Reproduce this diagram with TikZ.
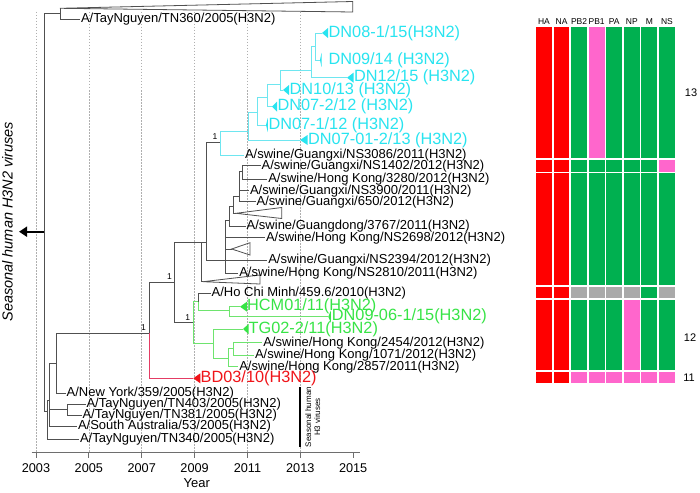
\documentclass[tikz,border=0pt]{standalone}
\usepackage{fontspec}
\setmainfont{Liberation Sans}
\usetikzlibrary{arrows.meta}
\definecolor{treegray}{RGB}{80,80,80}
\definecolor{gridgray}{RGB}{175,175,175}
\definecolor{axisgray}{RGB}{110,110,110}
\definecolor{cytext}{RGB}{40,228,240}
\definecolor{cyline}{RGB}{110,230,240}
\definecolor{grtext}{RGB}{55,228,70}
\definecolor{grline}{RGB}{110,228,110}
\definecolor{rdtext}{RGB}{240,20,25}
\definecolor{rdline}{RGB}{228,60,100}
\definecolor{colR}{RGB}{255,0,0}
\definecolor{colG}{RGB}{0,176,80}
\definecolor{colP}{RGB}{255,102,204}
\definecolor{colY}{RGB}{170,170,170}
\newcommand{\fblk}{\fontsize{13}{13}\selectfont}
\newcommand{\fcol}{\fontsize{16.3}{16}\selectfont}
\newcommand{\fone}{\fontsize{8.5}{8.5}\selectfont}
\newcommand{\mytri}[4]{\fill[#1] (#2) -- ++(#3,-#4) -- ++(0,{2*#4}) -- cycle;}
\begin{document}
\begin{tikzpicture}[x=1pt,y=-1pt,
  tr/.style={draw=treegray,line width=0.8pt},
  cyl/.style={draw=cyline,line width=0.8pt},
  grl/.style={draw=grline,line width=0.8pt},
  rdl/.style={draw=rdline,line width=0.8pt},
  gridl/.style={draw=gridgray,line width=0.5pt,dash pattern=on 1.5pt off 1.5pt},
  blbl/.style={anchor=west,inner xsep=0.8pt,inner ysep=0pt,font=\fblk,text=black},
  clbl/.style={anchor=west,inner xsep=0pt,inner ysep=0pt,font=\fcol,text=cytext},
  glbl/.style={anchor=west,inner xsep=0pt,inner ysep=0pt,font=\fcol,text=grtext},
  rlbl/.style={anchor=west,inner xsep=0pt,inner ysep=0pt,font=\fcol,text=rdtext},
  onel/.style={inner sep=0pt,font=\fone},
  hdr/.style={inner sep=0pt,font=\fontsize{8.5}{8.5}\selectfont},
  numl/.style={inner sep=0pt,font=\fontsize{11}{11}\selectfont},
  yearl/.style={inner sep=0pt,font=\fontsize{12.7}{12.7}\selectfont}]
\useasboundingbox[fill=white] (0,0) rectangle (700,492);

% grid lines and axis
\foreach \yr in {2003,2005,...,2013} {
  \draw[gridl] ({36+(\yr-2003)*26.43},12) -- ({36+(\yr-2003)*26.43},452.7);
}
\draw[draw=axisgray,line width=1.1pt] (31.7,452.7) -- (360,452.7);
\foreach \yr in {2003,2005,...,2015} {
  \draw[draw=axisgray,line width=1pt] ({36+(\yr-2003)*26.43},452.7) -- ({36+(\yr-2003)*26.43},457.5);
  \node[yearl] (y\yr) at ({36+(\yr-2003)*26.43},468) {\yr};
}
\node[inner sep=0pt,font=\fontsize{13}{13}\selectfont] (yearlab) at (196.7,482.7) {Year};

% root and top clade
\coordinate (root) at (44.3,231.7);
\coordinate (n360) at (60,13.3);
\coordinate (n1) at (47,411);
\draw[tr] (root) |- (n360);
\draw[tr] (root) |- (n1);
\coordinate (c0) at (60,8.3);
\draw[tr] (n360) |- (c0);
\draw[tr] (c0) -- (352.7,1.5) -- (352.7,12) -- cycle;
\node[blbl] (tn360) at (80,19) {A/TayNguyen/TN360/2005(H3N2)};
\draw[tr] (n360) |- (tn360.west);

% arrow and left text
\coordinate (arr) at (19,231.7);
\draw[line width=1.8pt,-{Triangle[length=8pt,width=10pt]}] (root) -- (arr);
\node[rotate=90,inner sep=0pt,font=\fontsize{14.5}{14.5}\selectfont\itshape] (shv) at (7.5,221.7) {Seasonal human H3N2 viruses};

% lower cluster
\coordinate (n2) at (49.5,400);
\draw[tr] (n1) |- (n2);
\node[blbl] (tn340) at (79,439) {A/TayNguyen/TN340/2005(H3N2)};
\draw[tr] (n1) |- (tn340.west);
\coordinate (n3) at (56,363.3);
\coordinate (ntn) at (67.3,409);
\node[blbl] (sa) at (77,426.5) {A/South Australia/53/2005(H3N2)};
\draw[tr] (n2) |- (n3);
\draw[tr] (n2) |- (ntn);
\draw[tr] (n2) |- (sa.west);
\node[blbl] (tn403) at (85.5,404) {A/TayNguyen/TN403/2005(H3N2)};
\node[blbl] (tn381) at (81.5,415) {A/TayNguyen/TN381/2005(H3N2)};
\draw[tr] (ntn) |- (tn403.west);
\draw[tr] (ntn) |- (tn381.west);
\node[blbl] (ny) at (65.7,393) {A/New York/359/2005(H3N2)};
\coordinate (P) at (149,333.3);
\draw[tr] (n3) |- (P);
\draw[tr] (n3) |- (ny.west);

% P node
\coordinate (Q) at (174,282.7);
\coordinate (bd) at (193.3,378.3);
\draw[tr] (P) |- (Q);
\draw[rdl] (P) |- (bd);
\node[onel] (b1) at (143.5,327.5) {1};
\mytri{rdtext}{bd}{7}{5}
\node[rlbl] (bdl) at (200.5,378.3) {BD03/10(H3N2)};

% Q node
\coordinate (S) at (201.7,242.7);
\coordinate (G0) at (193.3,322.7);
\draw[tr] (Q) |- (S);
\draw[tr] (Q) |- (G0);
\node[onel] (b2) at (169.5,276.5) {1};
\node[onel] (b3) at (187.7,317.5) {1};

% S node
\coordinate (U) at (206,242.7);
\coordinate (c1) at (203,281.7);
\draw[tr] (S) |- (U);
\draw[tr] (S) |- (c1);
\draw[tr] (c1) -- (260,275) -- (260,284) -- cycle;

% U node
\coordinate (A) at (220,142.7);
\coordinate (W1) at (225,260);
\draw[tr] (U) |- (A);
\draw[tr] (U) |- (W1);
\node[onel] (b4) at (215,136.5) {1};

% W1 subclade
\node[blbl] (ns2394) at (267.3,260) {A/swine/Guangxi/NS2394/2012(H3N2)};
\node[blbl] (ns2810) at (238.3,273.3) {A/swine/Hong Kong/NS2810/2011(H3N2)};
\node[blbl] (ns2698) at (265,237.7) {A/swine/Hong Kong/NS2698/2012(H3N2)};
\coordinate (c3) at (231.7,249);
\coordinate (W3) at (229.3,220);
\draw[tr] (W1) |- (ns2394.west);
\draw[tr] (W1) |- (ns2810.west);
\draw[tr] (W1) |- (ns2698.west);
\draw[tr] (W1) |- (c3);
\draw[tr] (W1) |- (W3);
\draw[tr] (c3) -- (250,242.7) -- (250,255) -- cycle;
\node[blbl] (gd3767) at (245.7,226) {A/swine/Guangdong/3767/2011(H3N2)};
\coordinate (W4) at (233.3,206.7);
\draw[tr] (W3) |- (gd3767.west);
\draw[tr] (W3) |- (W4);
\coordinate (c2) at (236,213.3);
\coordinate (W5) at (239.3,196);
\draw[tr] (W4) |- (c2);
\draw[tr] (W4) |- (W5);
\draw[tr] (c2) -- (281.7,207.5) -- (281.7,218.5) -- cycle;
\node[blbl] (g650) at (255.7,201.7) {A/swine/Guangxi/650/2012(H3N2)};
\node[blbl] (ns3900) at (249,190.7) {A/swine/Guangxi/NS3900/2011(H3N2)};
\coordinate (W6) at (242.7,171.7);
\draw[tr] (W5) |- (g650.west);
\draw[tr] (W5) |- (ns3900.west);
\draw[tr] (W5) |- (W6);
\node[blbl] (ns1402) at (260.7,165.7) {A/swine/Guangxi/NS1402/2012(H3N2)};
\node[blbl] (hk3280) at (267.3,179.3) {A/swine/Hong Kong/3280/2012(H3N2)};
\draw[tr] (W6) |- (ns1402.west);
\draw[tr] (W6) |- (hk3280.west);

% cyan clade
\coordinate (B) at (248.3,131.7);
\node[blbl] (ns3086) at (244,155) {A/swine/Guangxi/NS3086/2011(H3N2)};
\draw[cyl] (A) |- (B);
\draw[cyl] (A) |- (ns3086.west);
\coordinate (t0701) at (300,140);
\coordinate (C) at (257,112);
\draw[cyl] (B) |- (t0701);
\draw[cyl] (B) |- (C);
\coordinate (t071) at (266,125);
\coordinate (D) at (267,97);
\draw[cyl] (C) |- (t071);
\draw[cyl] (C) |- (D);
\coordinate (t072) at (272,106.7);
\coordinate (E) at (280,84);
\draw[cyl] (D) |- (t072);
\draw[cyl] (D) |- (E);
\coordinate (t10) at (283,90);
\coordinate (F) at (311,70);
\draw[cyl] (E) |- (t10);
\draw[cyl] (E) |- (F);
\coordinate (t12) at (347,77.7);
\coordinate (Gc) at (315,46);
\draw[cyl] (F) |- (t12);
\draw[cyl] (F) |- (Gc);
\coordinate (t08) at (322,33);
\coordinate (t09) at (320,60);
\draw[cyl] (Gc) |- (t08);
\draw[cyl] (Gc) |- (t09);
\mytri{cytext}{t0701}{7.5}{5}
\mytri{cytext}{t071}{1.8}{7}
\mytri{cytext}{t072}{5}{5}
\mytri{cytext}{t10}{6}{5}
\mytri{cytext}{t12}{6.5}{5}
\mytri{cytext}{t08}{6}{5}
\mytri{cytext}{t09}{1.5}{7}
\node[clbl] (l0701) at (308,140) {DN07-01-2/13 (H3N2)};
\node[clbl] (l071) at (268.3,125) {DN07-1/12 (H3N2)};
\node[clbl] (l072) at (277.3,106.7) {DN07-2/12 (H3N2)};
\node[clbl] (l10) at (289.5,90) {DN10/13 (H3N2)};
\node[clbl] (l12) at (353.8,77.7) {DN12/15 (H3N2)};
\node[clbl] (l08) at (328.5,33) {DN08-1/15(H3N2)};
\node[clbl] (l09) at (328.3,60) {DN09/14 (H3N2)};

% green clade
\coordinate (G1) at (198.3,301.7);
\coordinate (G4) at (213.3,343.3);
\draw[grl] (G0) |- (G1);
\draw[grl] (G0) |- (G4);
\node[blbl] (hcm) at (210.7,293.3) {A/Ho Chi Minh/459.6/2010(H3N2)};
\coordinate (G2) at (229.3,310);
\draw[tr] (G1) |- (hcm.west);
\draw[grl] (G1) |- (G2);
\coordinate (thcm) at (240,306.7);
\coordinate (t0906) at (328.3,316.7);
\draw[grl] (G2) |- (thcm);
\draw[grl] (G2) |- (t0906);
\coordinate (ttg) at (243,329);
\coordinate (G5) at (228.3,358.3);
\draw[grl] (G4) |- (ttg);
\draw[grl] (G4) |- (G5);
\coordinate (G6) at (233.3,348);
\node[blbl] (hk2857) at (238.3,366.7) {A/swine/Hong Kong/2857/2011(H3N2)};
\draw[grl] (G5) |- (G6);
\draw[grl] (G5) |- (hk2857.west);
\node[blbl] (hk2454) at (262.3,342.7) {A/swine/Hong Kong/2454/2012(H3N2)};
\node[blbl] (hk1071) at (254,355) {A/swine/Hong Kong/1071/2012(H3N2)};
\draw[grl] (G6) |- (hk2454.west);
\draw[grl] (G6) |- (hk1071.west);
\mytri{grtext}{thcm}{7}{5}
\mytri{grtext}{t0906}{2.5}{6}
\mytri{grtext}{ttg}{5.5}{5}
\node[glbl] (lhcm) at (247,306.7) {HCM01/11(H3N2)};
\node[glbl] (l0906) at (331.7,316.7) {DN09-06-1/15(H3N2)};
\node[glbl] (ltg) at (248.5,329) {TG02-2/11(H3N2)};

% seasonal human H3 bar
\coordinate (bar1) at (300,387.3);
\coordinate (bar2) at (300,446.7);
\draw[line width=2.5pt] (bar1) -- (bar2);
\node[rotate=90,align=center,inner sep=0pt,font=\fontsize{8}{9}\selectfont] (shh) at (312.8,417) {Seasonal human\\H3 viruses};

% segment grid
\foreach \t [count=\i from 0] in {HA,NA,PB2,PB1,PA,NP,M,NS} {
  \node[hdr] (h\i) at ({536+17.57*\i+7.95},21.7) {\t};
}
\foreach \c [count=\i from 0] in {R,R,G,P,G,G,G,G} {\fill[col\c] ({536+17.57*\i},27.3) rectangle ++(15.9,131);}
\foreach \c [count=\i from 0] in {R,R,G,G,G,G,G,P} {\fill[col\c] ({536+17.57*\i},160) rectangle ++(15.9,11.7);}
\foreach \c [count=\i from 0] in {R,R,G,G,G,G,G,G} {\fill[col\c] ({536+17.57*\i},173.3) rectangle ++(15.9,111.7);}
\foreach \c [count=\i from 0] in {R,R,Y,Y,Y,Y,G,Y} {\fill[col\c] ({536+17.57*\i},287.3) rectangle ++(15.9,10.4);}
\foreach \c [count=\i from 0] in {R,R,G,G,G,P,G,G} {\fill[col\c] ({536+17.57*\i},300) rectangle ++(15.9,70);}
\foreach \c [count=\i from 0] in {R,R,P,P,P,P,P,P} {\fill[col\c] ({536+17.57*\i},371.7) rectangle ++(15.9,11.6);}
\node[numl] (n13) at (691,93) {13};
\node[numl] (n12) at (690,338) {12};
\node[numl] (n11) at (689,378) {11};
\end{tikzpicture}
\end{document}
